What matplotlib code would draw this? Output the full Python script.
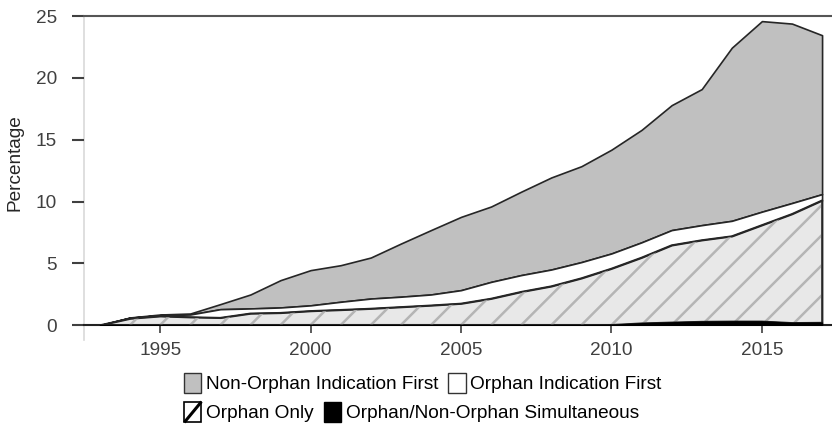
import matplotlib
matplotlib.use("Agg")
import matplotlib.pyplot as plt
import numpy as np
from matplotlib.patches import Patch, Rectangle
from matplotlib.lines import Line2D
from matplotlib.collections import LineCollection
from matplotlib.legend_handler import HandlerBase

# values (percent, stacked bottom to top)
years = list(range(1993, 2018))
simultaneous = [0, 0, 0, 0, 0, 0, 0, 0, 0, 0, 0, 0, 0, 0, 0, 0, 0,
                0.02, 0.15, 0.22, 0.28, 0.30, 0.30, 0.18, 0.20]
orphan_only = [0, 0.54, 0.73, 0.65, 0.60, 0.95, 1.00, 1.15, 1.24, 1.34, 1.47, 1.60, 1.75,
               2.15, 2.70, 3.15, 3.80, 4.56, 5.32, 6.25, 6.60, 6.90, 7.80, 8.82, 9.90]
orphan_first = [0, 0.06, 0.07, 0.21, 0.69, 0.40, 0.43, 0.45, 0.65, 0.81, 0.83, 0.88, 1.08,
                1.35, 1.35, 1.35, 1.30, 1.22, 1.23, 1.22, 1.21, 1.24, 1.08, 0.88, 0.50]
non_orphan_first = [0, 0.02, 0.06, 0.08, 0.41, 1.13, 2.21, 2.85, 2.96, 3.32, 4.30, 5.21, 5.93,
                    6.10, 6.75, 7.45, 7.76, 8.40, 9.10, 10.11, 11.01, 14.01, 15.42, 14.52, 12.86]

labels_row1 = ["Non-Orphan Indication First", "Orphan Indication First"]
labels_row2 = ["Orphan Only", "Orphan/Non-Orphan Simultaneous"]

plt.rcParams['font.family'] = ['Liberation Sans', 'DejaVu Sans']
fs = 13.7

fig = plt.figure(figsize=(8.32, 4.37), dpi=100)
ax = fig.add_axes([0.101, 0.256, 0.899, 0.707])

x = np.array(years)
y0 = np.zeros(len(years))
y1 = y0 + np.array(simultaneous)
y2 = y1 + np.array(orphan_only)
y3 = y2 + np.array(orphan_first)
y4 = y3 + np.array(non_orphan_first)

edge = '#262626'
ax.fill_between(x, y3, y4, facecolor='#c0c0c0', edgecolor=edge, linewidth=1.2, zorder=2)
ax.fill_between(x, y2, y3, facecolor='white', edgecolor=edge, linewidth=1.2, zorder=2)
hat = ax.fill_between(x, y1, y2, facecolor='#e8e8e8', edgecolor=edge, linewidth=1.2, zorder=2)
ax.fill_between(x, y0, y1, facecolor='black', edgecolor='black', linewidth=1.0, zorder=4)

xl, xr = 1992.47, 2017.33
ax.set_xlim(xl, xr)
ax.set_ylim(0, 25)

# diagonal hatch lines, clipped to the orphan-only area
px_per_x = 0.899 * 832 / (xr - xl)
px_per_y = 0.707 * 437 / 25
slope = px_per_x / px_per_y
segs = []
for c in np.arange(1975, 2018, 1.0):
    segs.append([(c, 0), (c + 25 / slope, 25)])
lc = LineCollection(segs, colors='#b5b5b5', linewidths=1.8, zorder=3)
lc.set_clip_path(hat.get_paths()[0], ax.transData)
ax.add_collection(lc)
ax.fill_between(x, y1, y2, facecolor='none', edgecolor=edge, linewidth=1.2, zorder=3.5)

# axes styling
for s in ['left', 'right']:
    ax.spines[s].set_visible(False)
ax.spines['top'].set_color('#555555')
ax.spines['top'].set_linewidth(1.5)
ax.spines['bottom'].set_color('#222222')
ax.spines['bottom'].set_linewidth(1.5)
ax.plot([xl, xl], [-1.2, 25], color='#d9d9d9', linewidth=1.2, clip_on=False, zorder=1)

ax.set_yticks([0, 5, 10, 15, 20, 25])
ax.set_xticks([1995, 2000, 2005, 2010, 2015])
ax.tick_params(axis='y', length=8.5, width=1.5, color='#404040', pad=11,
               labelsize=fs, labelcolor='#404040')
ax.tick_params(axis='x', length=6, width=1.2, color='#404040', pad=6,
               labelsize=fs, labelcolor='#404040')

fig.text(0.018, 0.627, "Percentage", rotation=90, ha='center', va='center',
         fontsize=fs, color='#262626')


class HandlerSlash(HandlerBase):
    def create_artists(self, legend, orig_handle, xdescent, ydescent,
                       width, height, fontsize, trans):
        box = Rectangle((-xdescent, -ydescent), width, height, facecolor='white',
                        edgecolor='black', linewidth=1.2, transform=trans)
        line = Line2D([-xdescent, -xdescent + width], [-ydescent, -ydescent + height],
                      color='black', linewidth=2.2, transform=trans,
                      solid_capstyle='butt')
        return [box, line]


h_gray = Patch(facecolor='#c0c0c0', edgecolor='#333333', linewidth=1.0)
h_white = Patch(facecolor='white', edgecolor='#333333', linewidth=1.0)
h_hatch = Patch(facecolor='white', edgecolor='black')
h_black = Patch(facecolor='black', edgecolor='black')

common = dict(frameon=False, fontsize=fs, ncol=2, loc='center', handlelength=0.9,
              handleheight=1.3, handletextpad=0.25, columnspacing=0.55, borderpad=0)
fig.legend([h_gray, h_white], labels_row1, bbox_to_anchor=(0.508, 1 - 383 / 437), **common)
fig.legend([h_hatch, h_black], labels_row2, bbox_to_anchor=(0.495, 1 - 412 / 437),
           handler_map={h_hatch: HandlerSlash()}, **common)

fig.savefig("out.png", dpi=100)
